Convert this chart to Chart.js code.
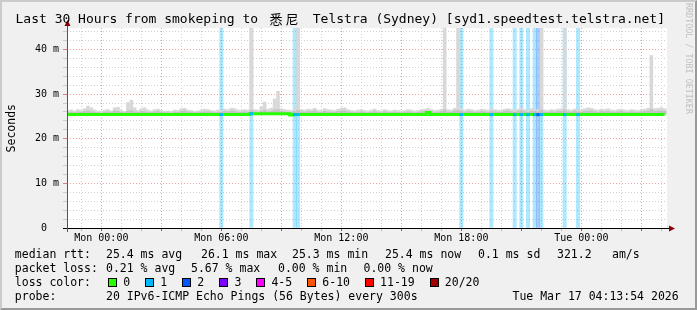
<!DOCTYPE html>
<html>
<head>
<meta charset="utf-8">
<script src="https://cdn.jsdelivr.net/npm/chart.js@4.4.1/dist/chart.umd.min.js"></script>
<style>
html,body{margin:0;padding:0;}
body{width:697px;height:310px;overflow:hidden;background:#f0f0f0;position:relative;font-family:"DejaVu Sans Mono",monospace;color:#000;}
#frame{position:absolute;left:0;top:0;width:693px;height:306px;border:2px solid;border-color:#cbcbcb #999 #999 #cbcbcb;pointer-events:none;}
#wrap{position:absolute;left:0;top:0;width:697px;height:310px;}
.t{position:absolute;white-space:pre;line-height:14px;font-size:11.5px;}
#title{position:absolute;left:15.5px;top:11px;font-size:13px;line-height:16px;white-space:pre;}
.cjk{font-family:"Noto Sans CJK SC",sans-serif;display:inline-block;width:39px;text-align:center;letter-spacing:3px;line-height:16px;vertical-align:top;}
#ylab{position:absolute;left:3.5px;top:104px;font-size:11.5px;line-height:14px;writing-mode:vertical-rl;transform:rotate(180deg);white-space:pre;}
#wm{position:absolute;left:683.5px;top:3px;font-size:8.4px;line-height:9px;writing-mode:vertical-rl;color:#c0c0c0;white-space:pre;}
#lossrow{position:absolute;left:108px;top:275px;height:14px;display:flex;align-items:center;font-size:11.5px;line-height:14px;white-space:pre;}
.sq{display:inline-block;width:7px;height:7px;border:1px solid #000;margin-right:6.3px;}
.lb{margin-right:14.8px;}
</style>
</head>
<body>
<div id="wrap"><canvas id="c" width="697" height="310"></canvas></div>
<div id="frame"></div>
<div id="title">Last 30 Hours from smokeping to <span class="cjk">悉尼</span> Telstra (Sydney) [syd1.speedtest.telstra.net]</div>
<div id="ylab">Seconds</div>
<div id="wm">RRDTOOL / TOBI OETIKER</div>
<div id="legend"></div>
<div id="lossrow"></div>
<script>
// ---------------- data ----------------
const sampleStart = 'Sun 22:20';   // first 10-minute sample
const sampleStepMin = 10;
const viewEnd = 'Tue 04:17';
const viewHours = 30;
const yMax = 44.8;

// upper edge of the smoke (max ping, ms) per 10-minute sample
const smokeTop = [
  26.4,26.5,26.3,26.6,26.4,26.8,27.4,27.0,26.5,26.3,
  26.2,26.5,26.6,26.3,27.0,27.1,26.4,26.2,28.2,28.7,
  27.0,26.4,26.8,27.0,26.5,26.3,26.6,26.7,26.4,26.2,
  26.3,26.2,26.5,26.4,26.8,26.9,26.5,26.4,26.2,26.3,
  26.5,26.7,26.6,26.4,26.3,26.5,26.4,26.7,26.6,26.9,
  26.8,26.5,26.4,26.6,26.5,60.0,26.6,26.5,27.2,28.3,
  26.7,26.9,29.0,30.7,26.8,26.6,26.5,26.4,26.8,60.0,
  26.6,26.5,26.7,26.6,26.9,26.5,26.4,26.8,26.6,26.5,
  26.4,26.7,26.9,27.0,26.6,26.4,26.3,26.5,26.6,26.4,
  26.3,26.5,26.7,26.4,26.3,26.6,26.4,26.3,26.5,26.4,
  26.3,26.4,26.6,26.5,26.3,26.4,26.6,26.7,26.9,26.6,
  26.4,26.5,26.7,60.0,26.6,26.5,26.9,60.0,26.8,26.5,
  26.7,26.6,26.4,26.5,26.7,26.6,26.5,26.8,26.6,26.5,
  26.4,26.7,26.8,26.6,26.5,26.7,27.0,26.6,26.5,26.8,
  26.7,26.6,60.0,26.5,26.4,26.6,26.5,26.7,26.8,60.0,
  26.6,26.5,26.7,26.6,26.5,26.8,27.0,26.9,26.6,26.5,
  26.7,26.6,26.8,26.5,26.4,26.6,26.7,26.5,26.4,26.6,
  26.5,26.4,26.6,26.7,26.9,38.7,26.8,26.9,27.0,26.8
];
// upper edge of the dense (darker) smoke, ms
const smokeMid = [
  25.9,26.0,25.9,26.1,26.0,26.2,26.3,26.1,26.0,25.9,
  25.8,26.0,26.1,25.9,26.3,26.2,26.0,25.9,26.3,26.4,
  26.1,26.0,26.2,26.1,26.0,25.9,26.1,26.2,26.0,25.9,
  25.9,25.8,26.0,26.0,26.2,26.3,26.1,26.0,25.9,25.9,
  26.0,26.1,26.1,26.0,25.9,26.0,26.0,26.2,26.1,26.3,
  26.2,26.0,26.0,26.1,26.0,26.4,26.1,26.0,26.2,26.4,
  26.1,26.2,26.5,26.6,26.2,26.1,26.0,26.0,26.2,26.4,
  26.1,26.0,26.2,26.1,26.3,26.0,26.0,26.2,26.1,26.0,
  26.0,26.2,26.3,26.3,26.1,26.0,25.9,26.0,26.1,26.0,
  25.9,26.0,26.2,26.0,25.9,26.1,26.0,25.9,26.0,26.0,
  25.9,26.0,26.1,26.0,25.9,26.0,26.1,26.2,26.3,26.1,
  26.0,26.0,26.2,26.5,26.1,26.0,26.3,26.4,26.2,26.0,
  26.2,26.1,26.0,26.0,26.2,26.1,26.0,26.2,26.1,26.0,
  26.0,26.2,26.3,26.1,26.0,26.2,26.4,26.1,26.0,26.2,
  26.2,26.1,26.5,26.0,26.0,26.1,26.0,26.2,26.2,26.5,
  26.1,26.0,26.2,26.1,26.0,26.2,26.3,26.3,26.1,26.0,
  26.2,26.1,26.2,26.0,26.0,26.1,26.2,26.0,26.0,26.1,
  26.0,26.0,26.1,26.2,26.3,26.6,26.2,26.3,26.3,26.2
];
// median rtt, ms
const medianRtt = [
  25.4,25.4,25.4,25.4,25.4,25.4,25.4,25.4,25.4,25.4,
  25.4,25.4,25.4,25.4,25.4,25.4,25.4,25.4,25.4,25.4,
  25.4,25.4,25.4,25.4,25.4,25.4,25.4,25.4,25.4,25.4,
  25.4,25.4,25.4,25.4,25.4,25.4,25.4,25.4,25.4,25.4,
  25.4,25.4,25.4,25.4,25.4,25.4,25.4,25.4,25.4,25.4,
  25.4,25.4,25.4,25.4,25.4,25.6,25.6,25.6,25.6,25.6,
  25.6,25.6,25.6,25.6,25.6,25.6,25.6,25.3,25.4,25.4,
  25.4,25.4,25.4,25.4,25.4,25.4,25.4,25.4,25.4,25.4,
  25.4,25.4,25.4,25.4,25.4,25.4,25.4,25.4,25.4,25.4,
  25.4,25.4,25.4,25.4,25.4,25.4,25.4,25.4,25.4,25.4,
  25.4,25.4,25.4,25.4,25.4,25.4,25.4,25.4,25.9,25.4,
  25.4,25.4,25.4,25.4,25.4,25.4,25.4,25.4,25.4,25.4,
  25.4,25.4,25.4,25.4,25.4,25.4,25.4,25.4,25.4,25.4,
  25.4,25.4,25.4,25.4,25.4,25.4,25.4,25.4,25.4,25.4,
  25.4,25.4,25.4,25.4,25.4,25.4,25.4,25.4,25.4,25.4,
  25.4,25.4,25.4,25.4,25.4,25.4,25.4,25.4,25.4,25.4,
  25.4,25.4,25.4,25.4,25.4,25.4,25.4,25.4,25.4,25.4,
  25.4,25.4,25.4,25.4,25.4,25.4,25.4,25.4,25.4,25.4
];
// samples with packet loss (lost pings out of 20)
const lossTimes  = ['Mon 06:00','Mon 07:30','Mon 09:40','Mon 09:50','Mon 18:00','Mon 19:30','Mon 20:40','Mon 21:00','Mon 21:20','Mon 21:40','Mon 21:50','Mon 22:00','Mon 23:10','Mon 23:50'];
const lossCounts = [1,1,1,1,1,1,1,1,1,1,2,1,1,1];

const xLabelHours = [0, 6, 12, 18, 24];
const xLabelTexts = ['Mon 00:00','Mon 06:00','Mon 12:00','Mon 18:00','Tue 00:00'];
const yLabelValues = [0, 10, 20, 30, 40];
const yLabelTexts = ['0\u00a0\u00a0','10 m','20 m','30 m','40 m'];

const lossLegendLabels = ['0','1','2','3','4-5','6-10','11-19','20/20'];
const lossLegendColors = ['#26ff00','#00b8ff','#0059ff','#7e00ff','#ff00ff','#ff5500','#ff0000','#a10000'];

const legendRows = [
  [[14.8,'median rtt:'],[106,'25.4 ms avg'],[201,'26.1 ms max'],[292,'25.3 ms min'],[385,'25.4 ms now'],[478,'0.1 ms sd'],[557,'321.2'],[612,'am/s']],
  [[14.8,'packet loss:'],[106,'0.21 % avg'],[191,'5.67 % max'],[278,'0.00 % min'],[363.5,'0.00 % now']],
  [[14.8,'loss color:']],
  [[14.8,'probe:'],[106,'20 IPv6-ICMP Echo Pings (56 Bytes) every 300s'],[512.5,'Tue Mar 17 04:13:54 2026']]
];
const legendRowTops = [247.3, 261.3, 275.3, 289];

// ---------------- helpers ----------------
const dayOffset = {Sun:-24, Mon:0, Tue:24};
function toMinutes(s){ const [d, hm] = s.split(' '); const [h, m] = hm.split(':').map(Number); return (dayOffset[d] + h) * 60 + m; }
const t0min = toMinutes(sampleStart);
const step = sampleStepMin / 60;
const xMax = toMinutes(viewEnd) / 60, xMin = xMax - viewHours;
const sampleHours = smokeTop.map((_, i) => (t0min + i * sampleStepMin) / 60);
const lossHours = lossTimes.map(s => toMinutes(s) / 60);
const idxOf = s => Math.round((toMinutes(s) - t0min) / sampleStepMin);

// legend text
const lg = document.getElementById('legend');
legendRows.forEach((row, r) => row.forEach(([x, txt]) => {
  const d = document.createElement('div'); d.className = 't'; d.style.left = x + 'px'; d.style.top = legendRowTops[r] + 'px'; d.textContent = txt; lg.appendChild(d);
}));
const lr = document.getElementById('lossrow');
lossLegendLabels.forEach((l, i) => {
  const s = document.createElement('span'); s.className = 'sq'; s.style.background = lossLegendColors[i]; lr.appendChild(s);
  const t = document.createElement('span'); t.className = 'lb'; t.textContent = l; lr.appendChild(t);
});

// ---------------- chart ----------------
const GRID = '#d0d0d0', MGRID = '#eba2a2';
const bandColor = {1: 'rgba(0,184,255,0.32)', 2: 'rgba(0,89,255,0.32)'};
const lossLineColor = {1: '#00b8ff', 2: '#0059ff'};
const font = {family: '"DejaVu Sans Mono", monospace', size: 10};

const lossLinePts = [];
lossTimes.forEach((s, k) => { const h = lossHours[k]; const m = medianRtt[idxOf(s)]; lossLinePts.push({x: h - step / 2, y: m}, {x: h + step / 2, y: m}, {x: h + step / 2, y: null}); });

const decor = {
  id: 'decor',
  beforeDraw(chart) {
    const {ctx, chartArea: a} = chart;
    ctx.save(); ctx.fillStyle = '#fff'; ctx.fillRect(a.left, a.top, a.right - a.left, a.bottom - a.top); ctx.restore();
  },
  afterDraw(chart) {
    const {ctx} = chart; const xs = chart.scales.x, ys = chart.scales.y;
    const y0 = Math.round(ys.getPixelForValue(0)); const xl = Math.round(xs.left); const top = Math.round(ys.top);
    ctx.save();
    ctx.fillStyle = '#000'; ctx.fillRect(xl - 4, y0, Math.round(xs.right) - xl + 6, 1);
    ctx.fillStyle = '#555'; ctx.fillRect(xl, top - 3, 1, y0 - top + 7);
    ctx.fillStyle = '#8b0000';
    ctx.beginPath(); ctx.moveTo(xs.right + 2, y0 - 2.5); ctx.lineTo(xs.right + 8, y0 + 0.5); ctx.lineTo(xs.right + 2, y0 + 3.5); ctx.closePath(); ctx.fill();
    ctx.beginPath(); ctx.moveTo(xl - 2.5, top - 2); ctx.lineTo(xl + 0.5, top - 8); ctx.lineTo(xl + 3.5, top - 2); ctx.closePath(); ctx.fill();
    ctx.restore();
  }
};

const hourTicks = []; for (let h = Math.ceil(xMin); h <= Math.floor(xMax); h++) hourTicks.push(h);
const yTicks = []; for (let v = 0; v < yMax; v += 2) yTicks.push(v);

new Chart(document.getElementById('c'), {
  type: 'bar',
  data: {
    datasets: [
      {type: 'line', order: 0, data: lossLinePts, borderWidth: 3, pointRadius: 0, spanGaps: false, borderColor: '#00b8ff',
        segment: {borderColor: c => lossLineColor[lossCounts[Math.floor(c.p0DataIndex / 3)]]}},
      {type: 'line', order: 1, data: sampleHours.map((h, i) => ({x: h, y: medianRtt[i]})), stepped: 'middle', borderColor: '#26ff00', borderWidth: 3, pointRadius: 0},
      {type: 'bar', order: 2, data: sampleHours.map((h, i) => ({x: h, y: [medianRtt[i], smokeMid[i]]})), backgroundColor: '#c2c2c2', grouped: false, barPercentage: 1.08, categoryPercentage: 1, borderWidth: 0},
      {type: 'bar', order: 3, data: sampleHours.map((h, i) => ({x: h, y: [medianRtt[i], smokeTop[i]]})), backgroundColor: '#d8d8d8', grouped: false, barPercentage: 1.08, categoryPercentage: 1, borderWidth: 0},
      {type: 'bar', order: 4, data: lossHours.map(h => ({x: h, y: [0, yMax]})), backgroundColor: c => bandColor[lossCounts[c.dataIndex]], grouped: false, barPercentage: 1, categoryPercentage: 1, borderWidth: 0}
    ]
  },
  options: {
    responsive: false, animation: false, events: [],
    layout: {padding: {left: 0, right: 30, top: 28, bottom: 0}},
    plugins: {legend: {display: false}, tooltip: {enabled: false}, title: {display: false}},
    scales: {
      x: {
        type: 'linear', min: xMin, max: xMax, offset: false,
        afterBuildTicks: s => { s.ticks = hourTicks.map(v => ({value: v})); },
        afterFit: s => { s.height = 82; },
        grid: {offset: false, color: c => (c.tick && c.tick.value % 3 === 0) ? MGRID : GRID, tickColor: c => (c.tick && c.tick.value % 3 === 0) ? '#d04040' : '#bbbbbb', tickLength: 3, lineWidth: 1},
        border: {display: false, dash: [1, 2]},
        ticks: {autoSkip: false, maxRotation: 0, minRotation: 0, padding: 1, font, color: '#000',
          callback: v => { const k = xLabelHours.indexOf(v); return k >= 0 ? xLabelTexts[k] : ''; }}
      },
      y: {
        type: 'linear', min: 0, max: yMax,
        afterBuildTicks: s => { s.ticks = yTicks.map(v => ({value: v})); },
        afterFit: s => { s.width = 67; },
        grid: {color: c => (c.tick && c.tick.value % 10 === 0) ? MGRID : GRID, tickColor: c => (c.tick && c.tick.value % 10 === 0) ? '#e08080' : '#cccccc', tickLength: 4, lineWidth: 1},
        border: {display: false, dash: [1, 2]},
        ticks: {autoSkip: false, padding: 4, font, color: '#000',
          callback: v => { const k = yLabelValues.indexOf(v); return k >= 0 ? yLabelTexts[k] : ''; }}
      }
    }
  },
  plugins: [decor]
});
</script>
</body>
</html>
